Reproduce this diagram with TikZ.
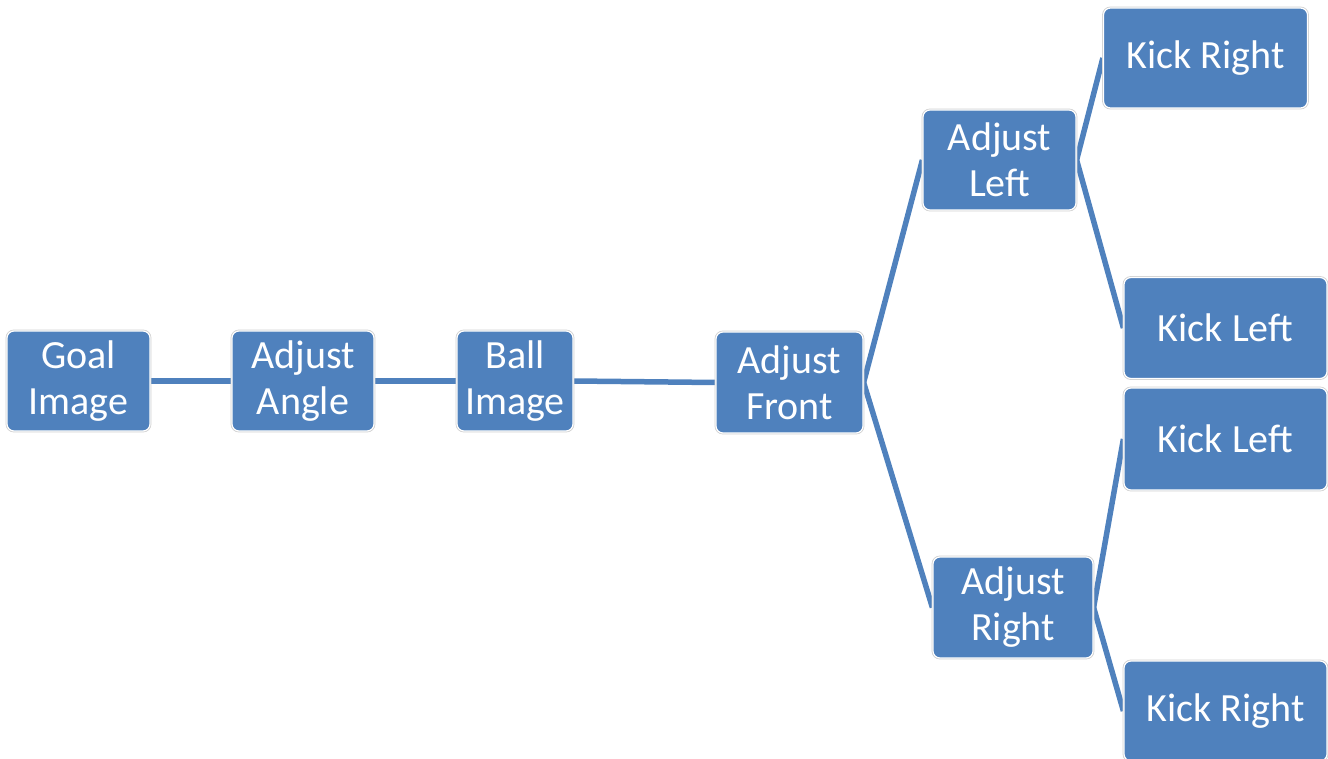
\documentclass[tikz,border=0pt]{standalone}
\usepackage{fontspec}
\setmainfont{Carlito}
\usetikzlibrary{backgrounds}
\definecolor{boxblue}{HTML}{4F81BD}
\tikzset{
  box/.style={
    preaction={draw=black!18, line width=2.8pt},
    fill=boxblue, draw=white, line width=1.2pt, rounded corners=7pt,
    text=white, align=center, inner sep=0pt,
    font=\fontsize{40}{46}\selectfont
  },
  link/.style={draw=boxblue, line width=5.5pt}
}
\begin{document}
\begin{tikzpicture}[x=1pt, y=-1pt]
  \useasboundingbox (0,0) rectangle (1328,759);
  \begin{scope}
    \clip (0,0) rectangle (1328,759);
    \node[box, minimum width=143pt, minimum height=100pt] (goal)  at (78.5,381)  {Goal\\Image};
    \node[box, minimum width=142pt, minimum height=100pt] (angle) at (303,381)   {Adjust\\Angle};
    \node[box, minimum width=116pt, minimum height=100pt] (ball)  at (515,381)   {Ball\\Image};
    \node[box, minimum width=147pt, minimum height=101pt] (front) at (789.5,382.5) {Adjust\\Front};
    \node[box, minimum width=153pt, minimum height=100pt] (left)  at (999.5,160) {Adjust\\Left};
    \node[box, minimum width=160pt, minimum height=101pt] (right) at (1013,607.5) {Adjust\\Right};
    \node[box, minimum width=204pt, minimum height=100pt] (lkr)   at (1205.5,58)  {Kick Right};
    \node[box, minimum width=203pt, minimum height=101pt] (lkl)   at (1225.5,328) {Kick Left};
    \node[box, minimum width=203pt, minimum height=102pt] (rkl)   at (1225.5,439) {Kick Left};
    \node[box, minimum width=203pt, minimum height=100pt] (rkr)   at (1225.5,711) {Kick Right};
    \begin{scope}[on background layer]
      \draw[link] (goal.east)  -- (angle.west);
      \draw[link] (angle.east) -- (ball.west);
      \draw[link] (ball.east)  -- (front.west);
      \draw[link] (front.east) -- (left.west);
      \draw[link] (front.east) -- (right.west);
      \draw[link] (left.east)  -- (lkr.west);
      \draw[link] (left.east)  -- (lkl.west);
      \draw[link] (right.east) -- (rkl.west);
      \draw[link] (right.east) -- (rkr.west);
    \end{scope}
  \end{scope}
\end{tikzpicture}
\end{document}
